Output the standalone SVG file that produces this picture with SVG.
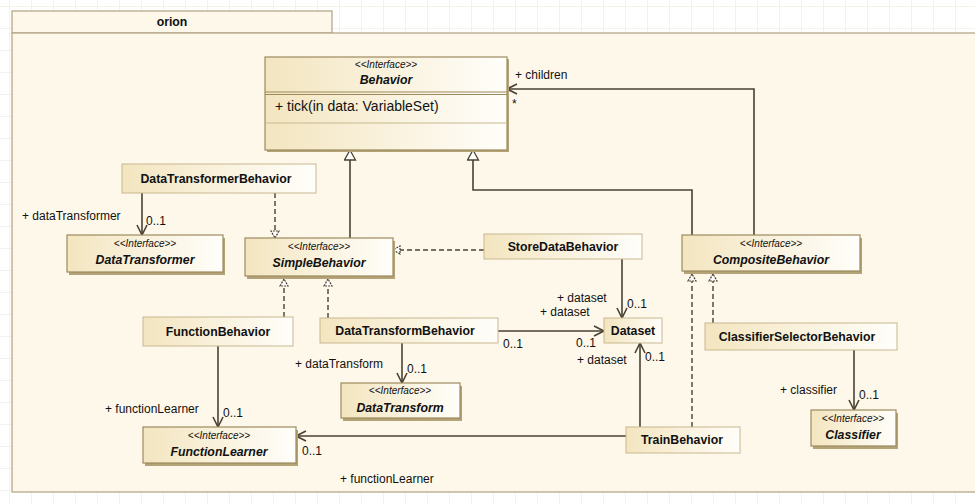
<svg xmlns="http://www.w3.org/2000/svg" width="975" height="504" viewBox="0 0 975 504">
<style>
.nm{font-family:"Liberation Sans",Arial,sans-serif;font-size:12.3px;font-weight:bold;fill:#111;text-anchor:middle}
.inm{font-family:"Liberation Sans",Arial,sans-serif;font-size:12.3px;font-weight:bold;font-style:italic;fill:#111;text-anchor:middle}
.st{font-family:"Liberation Sans",Arial,sans-serif;font-size:10px;font-style:italic;fill:#111;text-anchor:middle}
.lb{font-family:"Liberation Sans",Arial,sans-serif;font-size:12px;fill:#111}
.op{font-family:"Liberation Sans",Arial,sans-serif;font-size:14px;fill:#111}
.box{fill:url(#g);stroke:#c8b890;stroke-width:1}
.ibox{fill:url(#g);stroke:#9c8a5e;stroke-width:1.2}
.sh{fill:#b3a376}
.ln{fill:none;stroke:#4a4030;stroke-width:1.6}
.dl{fill:none;stroke:#4a4030;stroke-width:1.4;stroke-dasharray:5,3}
</style>
<defs>
<linearGradient id="g" x1="0" y1="0" x2="1" y2="0">
<stop offset="0" stop-color="#f3e5bf"/>
<stop offset="1" stop-color="#fffefa"/>
</linearGradient>
<pattern id="grid" width="22" height="22" patternUnits="userSpaceOnUse" x="9" y="6">
<path d="M0,0 H22 M0,0 V22" fill="none" stroke="#ebe6da" stroke-width="1"/>
</pattern>
<marker id="gen" markerWidth="14" markerHeight="14" refX="11" refY="6" orient="auto" markerUnits="userSpaceOnUse">
<path d="M1,0.5 L11,6 L1,11.5 z" fill="#fff" stroke="#4a4030" stroke-width="1.3"/>
</marker>
<marker id="real" markerWidth="12" markerHeight="12" refX="8" refY="5" orient="auto" markerUnits="userSpaceOnUse">
<path d="M1,1 L8,5 L1,9 z" fill="#fff" stroke="#4a4030" stroke-width="1.2" stroke-dasharray="2,1"/>
</marker>
<marker id="open" markerWidth="14" markerHeight="14" refX="11" refY="6" orient="auto" markerUnits="userSpaceOnUse">
<path d="M1,1 L11,6 L1,11" fill="none" stroke="#4a4030" stroke-width="1.6"/>
</marker>
</defs>
<rect width="975" height="504" fill="#ffffff"/>
<rect width="975" height="504" fill="url(#grid)"/>
<g id="package-orion">
<rect x="12" y="11" width="320" height="22" fill="#fef8ea" stroke="#b0a280" stroke-width="1.2"/>
<rect x="12" y="33" width="980" height="459" fill="#fef8ea" stroke="#b0a280" stroke-width="1.2"/>
<text x="172" y="26" class="nm">orion</text>
</g>
<g id="connectors">
<path class="ln" d="M350,238 L350,150" marker-end="url(#gen)"/>
<path class="ln" d="M692,235 L692,190 L473,190 L473,150" marker-end="url(#gen)"/>
<path class="ln" d="M754,235 L754,89 L507,89" marker-end="url(#open)"/>
<path class="ln" d="M142,193 L142,235" marker-end="url(#open)"/>
<path class="dl" d="M275,193 L275,238" marker-end="url(#real)"/>
<path class="dl" d="M484,250 L393,250" marker-end="url(#real)"/>
<path class="ln" d="M622,259 L622,318" marker-end="url(#open)"/>
<path class="dl" d="M284,317 L284,279" marker-end="url(#real)"/>
<path class="dl" d="M328,318 L328,279" marker-end="url(#real)"/>
<path class="ln" d="M218,346 L218,427" marker-end="url(#open)"/>
<path class="ln" d="M402,343 L402,383" marker-end="url(#open)"/>
<path class="ln" d="M498,331 L604,331" marker-end="url(#open)"/>
<path class="ln" d="M640,427 L640,343" marker-end="url(#open)"/>
<path class="ln" d="M626,436 L296,436" marker-end="url(#open)"/>
<path class="dl" d="M692,427 L692,274" marker-end="url(#real)"/>
<path class="dl" d="M713,323 L713,274" marker-end="url(#real)"/>
<path class="ln" d="M854,350 L854,410" marker-end="url(#open)"/>
</g>
<g id="labels">
<text x="515" y="79" class="lb">+ children</text>
<text x="512" y="108" class="lb">*</text>
<text x="22" y="220" class="lb">+ dataTransformer</text>
<text x="146" y="225" class="lb">0..1</text>
<text x="557" y="302" class="lb">+ dataset</text>
<text x="627" y="308" class="lb">0..1</text>
<text x="540" y="316" class="lb">+ dataset</text>
<text x="503" y="348" class="lb">0..1</text>
<text x="576" y="347" class="lb">0..1</text>
<text x="577" y="364" class="lb">+ dataset</text>
<text x="645" y="361" class="lb">0..1</text>
<text x="295" y="368" class="lb">+ dataTransform</text>
<text x="407" y="373" class="lb">0..1</text>
<text x="105" y="413" class="lb">+ functionLearner</text>
<text x="223" y="417" class="lb">0..1</text>
<text x="302" y="455" class="lb">0..1</text>
<text x="340" y="483" class="lb">+ functionLearner</text>
<text x="780" y="394" class="lb">+ classifier</text>
<text x="859" y="399" class="lb">0..1</text>
</g>
<g id="Behavior">
<rect x="267" y="59" width="242" height="93" class="sh"/>
<rect x="265" y="57" width="242" height="93" class="ibox"/>
<line x1="265" y1="92" x2="507" y2="92" stroke="#9c8a5e" stroke-width="1.2"/>
<line x1="265" y1="94.5" x2="507" y2="94.5" stroke="#9c8a5e" stroke-width="1.2"/>
<line x1="265" y1="123" x2="507" y2="123" stroke="#c8b890" stroke-width="1"/>
<text x="386" y="68" class="st">&lt;&lt;Interface&gt;&gt;</text>
<text x="386" y="84" class="inm">Behavior</text>
<text x="275" y="111" class="op">+ tick(in data: VariableSet)</text>
</g>
<g id="DataTransformerBehavior">
<rect x="122" y="164" width="194" height="29" class="box"/>
<text x="216" y="183" class="nm">DataTransformerBehavior</text>
</g>
<g id="DataTransformer">
<rect x="69" y="238" width="156" height="37" class="sh"/>
<rect x="67" y="235" width="156" height="37" class="ibox"/>
<text x="145" y="247" class="st">&lt;&lt;Interface&gt;&gt;</text>
<text x="145" y="264" class="inm">DataTransformer</text>
</g>
<g id="SimpleBehavior">
<rect x="247" y="241" width="148" height="38" class="sh"/>
<rect x="245" y="238" width="148" height="38" class="ibox"/>
<text x="319" y="250" class="st">&lt;&lt;Interface&gt;&gt;</text>
<text x="319" y="267" class="inm">SimpleBehavior</text>
</g>
<g id="StoreDataBehavior">
<rect x="484" y="234" width="158" height="25" class="box"/>
<text x="563" y="251" class="nm">StoreDataBehavior</text>
</g>
<g id="CompositeBehavior">
<rect x="684" y="238" width="178" height="36" class="sh"/>
<rect x="682" y="235" width="178" height="36" class="ibox"/>
<text x="771" y="247" class="st">&lt;&lt;Interface&gt;&gt;</text>
<text x="771" y="264" class="inm">CompositeBehavior</text>
</g>
<g id="FunctionBehavior">
<rect x="143" y="317" width="150" height="29" class="box"/>
<text x="218" y="336" class="nm">FunctionBehavior</text>
</g>
<g id="DataTransformBehavior">
<rect x="320" y="318" width="178" height="25" class="box"/>
<text x="405" y="335" class="nm">DataTransformBehavior</text>
</g>
<g id="Dataset">
<rect x="604" y="318" width="58" height="25" class="box"/>
<text x="633" y="335" class="nm">Dataset</text>
</g>
<g id="ClassifierSelectorBehavior">
<rect x="705" y="323" width="192" height="27" class="box"/>
<text x="797" y="341" class="nm">ClassifierSelectorBehavior</text>
</g>
<g id="DataTransform">
<rect x="343" y="386" width="119" height="35" class="sh"/>
<rect x="341" y="383" width="119" height="35" class="ibox"/>
<text x="400" y="394" class="st">&lt;&lt;Interface&gt;&gt;</text>
<text x="400" y="412" class="inm">DataTransform</text>
</g>
<g id="FunctionLearner">
<rect x="145" y="430" width="153" height="36" class="sh"/>
<rect x="143" y="427" width="153" height="36" class="ibox"/>
<text x="219" y="439" class="st">&lt;&lt;Interface&gt;&gt;</text>
<text x="219" y="456" class="inm">FunctionLearner</text>
</g>
<g id="TrainBehavior">
<rect x="626" y="427" width="114" height="26" class="box"/>
<text x="682" y="444" class="nm">TrainBehavior</text>
</g>
<g id="Classifier">
<rect x="813" y="413" width="85" height="36" class="sh"/>
<rect x="811" y="410" width="85" height="36" class="ibox"/>
<text x="853" y="422" class="st">&lt;&lt;Interface&gt;&gt;</text>
<text x="853" y="439" class="inm">Classifier</text>
</g>
</svg>
